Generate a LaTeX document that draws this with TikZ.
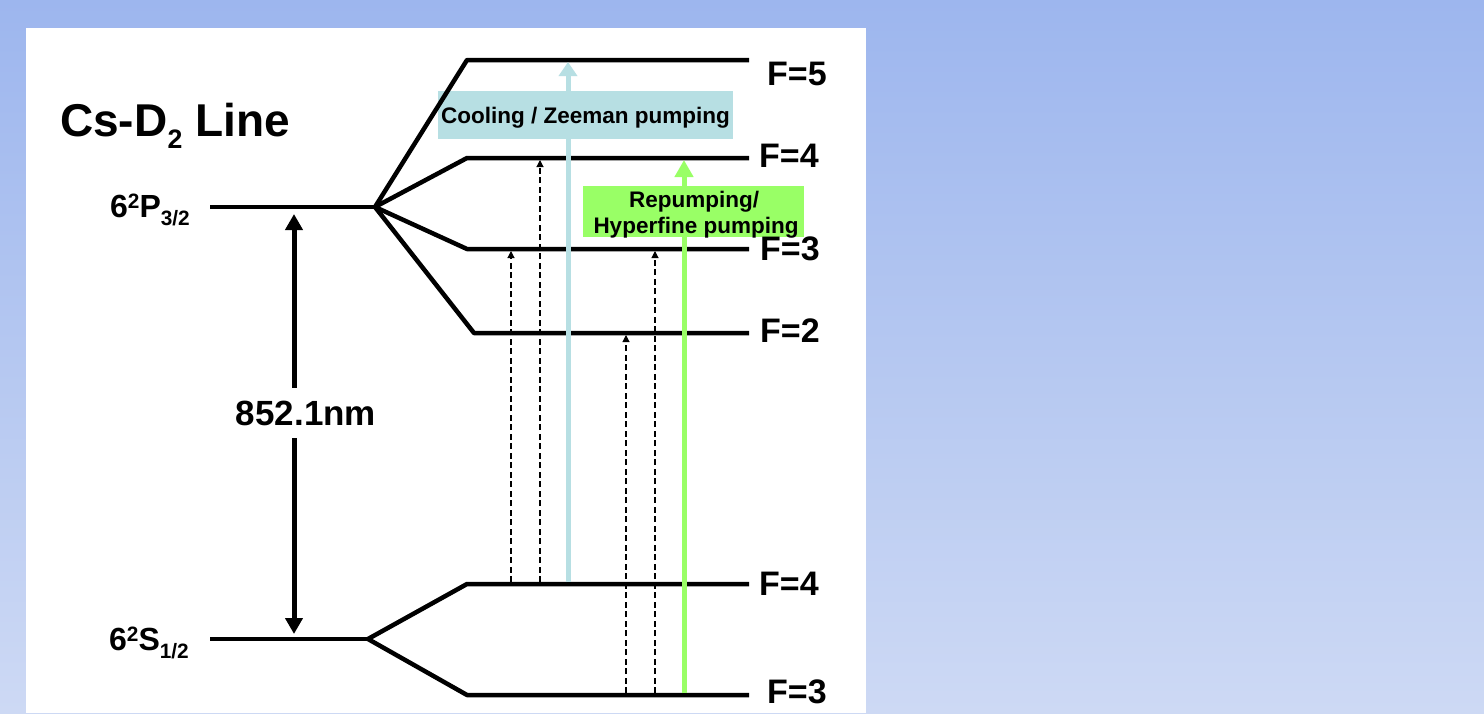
\documentclass[tikz,border=0pt]{standalone}
\usepackage{fontspec}
\setmainfont{Liberation Sans}
\usetikzlibrary{arrows.meta}

\definecolor{bgtop}{HTML}{9DB6EE}
\definecolor{bgbot}{HTML}{CDD9F4}
\definecolor{coolblue}{HTML}{B7DFE3}
\definecolor{repgreen}{HTML}{99FF66}

% raised / lowered small figures for term symbols
\newcommand\hiscript[2][0.65]{\raisebox{0.28em}{\scalebox{#1}{#2}}}
\newcommand\loscript[2][0.65]{\raisebox{-0.28em}{\scalebox{#1}{#2}}}

\tikzset{
  level/.style={line width=4.5pt, line join=round},
  probe/.style={line width=1.1pt, dash pattern=on 6pt off 3.5pt,
                -{Triangle[width=7pt,length=7pt]}},
  beam/.style={line width=5pt, -{Triangle[width=18pt,length=14pt]}},
  repbeam/.style={line width=5pt, repgreen, -{Triangle[width=18pt,length=17pt]}},
  gap/.style={line width=5pt, {Triangle[width=17pt,length=16pt]}-{Triangle[width=17pt,length=16pt]}},
  termlabel/.style={anchor=base east, inner sep=0pt, font=\fontsize{32}{38}\selectfont\bfseries},
  flabel/.style={anchor=base west, inner sep=0pt, font=\fontsize{34}{40}\selectfont\bfseries},
  boxtext/.style={inner sep=0pt, font=\fontsize{22.5}{26}\selectfont\bfseries, align=center},
}

\begin{document}
\begin{tikzpicture}[x=1pt,y=-1pt]
  % slide background and white panel
  \shade[top color=bgtop, bottom color=bgbot] (0,0) rectangle (1484,713);
  \useasboundingbox (0,0) rectangle (1484,713);
  \fill[white] (26,28) rectangle (866,713);

  % label boxes behind the level lines
  \node[fill=coolblue, minimum width=295pt, minimum height=48pt, inner sep=0pt] (coolbox) at (585.5,115) {};
  \node[fill=repgreen, minimum width=221pt, minimum height=51pt, inner sep=0pt] (repbox) at (693.5,211.5) {};

  % excited state 6P3/2 and its hyperfine fan
  \coordinate (Pl) at (210,207);
  \coordinate (Pj) at (375,207);
  \coordinate (e5a) at (467,60);  \coordinate (e5b) at (749,60);
  \coordinate (e4a) at (467,158); \coordinate (e4b) at (749,158);
  \coordinate (e3a) at (467,249); \coordinate (e3b) at (749,249);
  \coordinate (e2a) at (474,333); \coordinate (e2b) at (749,333);
  \draw[level] (Pl) -- (Pj);
  \draw[level] (Pj) -- (e5a) -- (e5b);
  \draw[level] (Pj) -- (e4a) -- (e4b);
  \draw[level] (Pj) -- (e3a) -- (e3b);
  \draw[level] (Pj) -- (e2a) -- (e2b);

  % ground state 6S1/2 and its hyperfine fan
  \coordinate (Sl) at (210,639);
  \coordinate (Sj) at (368,639);
  \coordinate (g4a) at (467,584); \coordinate (g4b) at (749,584);
  \coordinate (g3a) at (467,695); \coordinate (g3b) at (749,695);
  \draw[level] (Sl) -- (Sj);
  \draw[level] (Sj) -- (g4a) -- (g4b);
  \draw[level] (Sj) -- (g3a) -- (g3b);

  % weak off-resonant transitions
  \coordinate (p1s) at (511,582); \coordinate (p1e) at (511,251);
  \coordinate (p2s) at (540,582); \coordinate (p2e) at (540,160);
  \coordinate (p3s) at (626,693); \coordinate (p3e) at (626,335);
  \coordinate (p4s) at (655,693); \coordinate (p4e) at (655,251);
  \draw[probe] (p1s) -- (p1e);
  \draw[probe] (p2s) -- (p2e);
  \draw[probe] (p3s) -- (p3e);
  \draw[probe] (p4s) -- (p4e);

  % cooling and repumping beams
  \coordinate (cs) at (568,582); \coordinate (ce) at (568,62);
  \coordinate (rs) at (684,693); \coordinate (re) at (684,160);
  \draw[beam, coolblue] (cs) -- (ce);
  \draw[repbeam] (rs) -- (re);

  % D2 transition wavelength
  \coordinate (wTop) at (294,214);
  \coordinate (wBot) at (294,634);
  \draw[gap] (wTop) -- (wBot);
  \node[anchor=base, fill=white, inner xsep=3pt, inner ysep=13pt,
        font=\fontsize{35}{40}\selectfont\bfseries] (wl) at (306,425) {852.1nm};

  % box texts
  \node[boxtext, anchor=base] (cooltext) at (585.5,123) {Cooling / Zeeman pumping};
  \node[boxtext, anchor=base] (reptext1) at (694,207) {Repumping/};
  \node[boxtext, anchor=base] (reptext2) at (696,233) {Hyperfine pumping};

  % title and term labels
  \node[anchor=base west, inner sep=0pt, font=\fontsize{46}{54}\selectfont\bfseries] (title)
       at (60,136) {Cs-D\loscript[0.58]{2} Line};
  \node[termlabel] (Plab) at (190,217) {6\hiscript{2}P\loscript{3/2}};
  \node[termlabel] (Slab) at (189,650) {6\hiscript{2}S\loscript{1/2}};

  % hyperfine labels
  \node[flabel] (F5) at (767,85)  {F=5};
  \node[flabel] (F4e) at (759,167) {F=4};
  \node[flabel] (F3e) at (760,260) {F=3};
  \node[flabel] (F2e) at (760,342) {F=2};
  \node[flabel] (F4g) at (759,595) {F=4};
  \node[flabel] (F3g) at (767,703) {F=3};
\end{tikzpicture}
\end{document}
